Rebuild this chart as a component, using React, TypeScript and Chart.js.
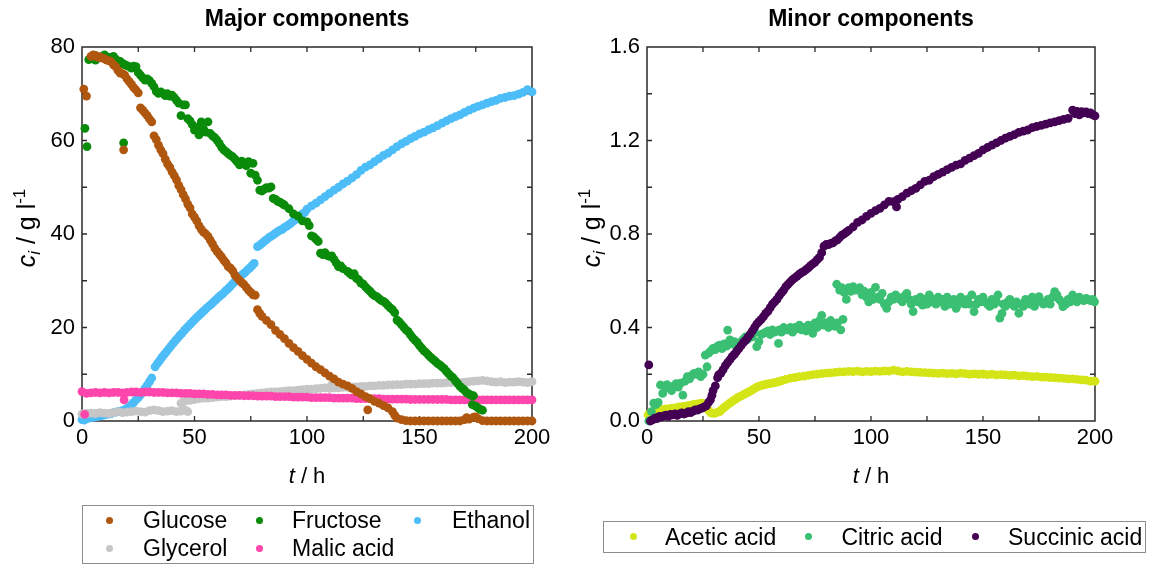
import React, { useEffect, useRef } from 'react';
import { Chart, registerables } from 'chart.js';

Chart.register(...registerables);

const FONT = '"Liberation Sans", Arial, Helvetica, sans-serif';

// Axis ticks
const timeTicks = [0, 50, 100, 150, 200];
const timeSubTicks = [25, 75, 125, 175];
const majorYTicks = [0, 20, 40, 60, 80];
const majorYSubTicks = [10, 30, 50, 70];
const minorYTicks = [0, 0.4, 0.8, 1.2, 1.6];
const minorYSubTicks = [0.2, 0.6, 1.0, 1.4];

// Major components: [t / h, c / g l-1]
const glucose = [
  [0.8, 71.0], [2, 69.5], [4, 78.0], [5, 78.3], [6, 78.2], [7, 77.8], [8, 77.9], [9, 77.6], [10, 77.5],
  [11, 77.2], [12, 77.1], [13, 76.8], [14, 76.2], [15, 75.8], [16, 75.0], [17, 74.4], [18, 74.3], [18.5, 58.0],
  [19, 74.0], [20, 73.2], [21, 72.6], [22, 72.0], [23, 71.3], [24, 70.8], [25, 70.2], [26, 67.0], [27, 66.5],
  [28, 65.9], [29, 65.3], [30, 64.6], [31, 64.0], [32, 61.0], [33, 60.2], [34, 59.0], [35, 58.0], [36, 57.2],
  [37, 56.0], [38, 55.0], [39, 54.3], [40, 53.3], [41, 52.5], [42, 51.6], [43, 50.4], [44, 49.5], [45, 48.4],
  [46, 47.5], [47, 46.4], [48, 45.6], [49, 44.3], [50, 43.6], [51, 42.8], [52, 41.8], [53, 41.0], [54, 40.4],
  [55, 40.0], [56, 39.5], [57, 38.7], [58, 37.9], [59, 37.0], [60, 36.3], [61, 35.7], [62, 35.1], [63, 34.4],
  [64, 33.8], [65, 33.0], [66, 32.7], [67, 32.1], [68, 31.2], [69, 30.6], [70, 30.1], [71, 29.6], [72, 29.2],
  [73, 28.6], [74, 28.0], [75, 27.5], [76, 27.0], [77, 26.9], [78, 23.8], [79, 23.0], [80, 22.4], [82, 21.5],
  [84, 20.6], [86, 19.4], [88, 18.5], [90, 17.6], [92, 16.6], [94, 15.7], [96, 14.9], [98, 14.0], [100, 13.2],
  [102, 12.4], [104, 11.6], [106, 11.0], [108, 10.3], [110, 9.6], [112, 9.0], [114, 8.3], [116, 7.9], [118, 7.5],
  [120, 7.0], [122, 6.3], [124, 5.8], [126, 5.2], [127, 2.4], [128, 4.8], [130, 4.2], [132, 3.8], [134, 3.3],
  [136, 2.8], [138, 2.0], [139, 1.2], [140, 0.6], [142, 0.3], [144, 0.1], [146, 0], [148, 0], [150, 0],
  [152, 0], [154, 0], [156, 0], [158, 0], [160, 0], [162, 0], [164, 0], [166, 0], [168, 0], [170, 0.3],
  [171, 0.7], [172, 0.4], [174, 0.8], [175, 0.9], [176, 0.5], [178, 0.1], [180, 0], [182, 0], [184, 0],
  [186, 0], [188, 0], [190, 0], [192, 0], [194, 0], [196, 0], [198, 0], [200, 0],
];

const fructose = [
  [1.3, 62.6], [2.2, 58.7], [3, 77.3], [4, 77.5], [5, 77.8], [6, 77.2], [7, 77.6], [8, 77.8], [9, 78.0],
  [10, 78.3], [11, 77.9], [12, 77.5], [13, 77.8], [14, 78.0], [15, 77.4], [16, 77.0], [17, 76.9], [18, 76.5],
  [18.5, 59.5], [19, 76.2], [20, 76.0], [21, 75.8], [22, 75.5], [23, 75.9], [24, 75.8], [25, 74.5], [26, 74.0],
  [27, 73.4], [28, 72.9], [29, 73.2], [30, 72.8], [31, 72.2], [32, 71.5], [33, 70.5], [34, 70.1], [35, 70.4],
  [36, 70.1], [37, 69.6], [38, 70.0], [39, 69.5], [40, 69.7], [41, 69.2], [42, 68.6], [43, 68.0], [44, 65.3],
  [45, 67.6], [46, 67.6], [47, 64.7], [48, 64.2], [49, 63.4], [50, 62.2], [51, 62.8], [52, 61.2], [53, 64.0],
  [54, 62.5], [55, 61.8], [56, 64.0], [57, 61.5], [58, 61.0], [59, 60.6], [60, 60.1], [61, 59.4], [62, 58.6],
  [63, 58.0], [64, 57.6], [65, 57.2], [66, 56.8], [67, 56.5], [68, 56.0], [69, 55.4], [70, 54.8], [71, 55.6],
  [72, 55.0], [73, 54.6], [74, 55.5], [75, 53.0], [76, 55.1], [77, 52.6], [78, 51.5], [79, 49.4], [80, 49.2],
  [81, 49.6], [82, 49.9], [83, 49.8], [84, 50.1], [85, 47.6], [86, 47.4], [87, 47.0], [88, 46.8], [89, 46.5],
  [90, 46.2], [92, 45.4], [94, 44.3], [96, 43.8], [98, 42.8], [100, 42.6], [101, 41.8], [102, 39.6], [103, 39.4],
  [104, 38.9], [105, 38.4], [106, 35.9], [107, 35.6], [108, 36.0], [109, 35.4], [110, 35.2], [111, 35.3],
  [112, 34.6], [113, 33.8], [114, 33.0], [115, 33.2], [116, 32.6], [118, 32.0], [119, 31.6], [120, 31.2],
  [121, 31.5], [122, 30.5], [123, 30.2], [124, 29.5], [125, 29.3], [126, 28.7], [127, 28.2], [128, 27.8],
  [129, 27.2], [130, 26.8], [131, 26.6], [132, 26.2], [133, 25.8], [134, 25.6], [135, 25.2], [136, 24.7],
  [137, 24.2], [138, 23.8], [139, 23.2], [140, 21.6], [141, 21.2], [142, 20.6], [143, 20.1], [144, 19.5],
  [145, 19.1], [146, 18.4], [147, 17.8], [148, 17.3], [149, 16.8], [150, 16.1], [151, 15.6], [152, 15.0],
  [153, 14.6], [154, 14.1], [155, 13.6], [156, 13.2], [157, 12.8], [158, 12.3], [159, 12.0], [160, 11.6],
  [161, 11.2], [162, 10.6], [163, 10.1], [164, 9.6], [165, 9.2], [166, 8.6], [167, 8.0], [168, 7.4], [169, 7.0],
  [170, 6.6], [171, 6.0], [172, 5.8], [173, 5.5], [173.5, 3.5], [174, 5.4], [175, 3.2], [176, 2.8], [177, 2.5],
  [178, 2.3],
];

const ethanol = [
  [0, 0.3], [1, 0.2], [2, 0.5], [3, 0.6], [4, 0.7], [5, 0.8], [6, 0.9], [7, 1.0], [8, 1.1], [9, 1.2], [10, 1.3],
  [11, 1.4], [12, 1.5], [13, 1.6], [14, 1.8], [15, 1.9], [16, 2.0], [17, 2.1], [18, 2.2], [19, 2.4], [20, 2.7],
  [21, 3.0], [22, 3.5], [23, 4.0], [24, 4.5], [25, 5.0], [26, 5.6], [27, 6.3], [28, 7.0], [29, 7.7], [30, 8.4],
  [31, 9.2], [32.5, 11.6], [33.5, 12.3], [34.5, 12.9], [35.5, 13.6], [36.5, 14.2], [37.5, 14.8], [38.5, 15.4],
  [39.5, 16.0], [40.5, 16.6], [41.5, 17.2], [42.5, 17.7], [43.5, 18.3], [44.5, 18.8], [45.5, 19.4], [46.5, 19.9],
  [47.5, 20.4], [48.5, 20.9], [49.5, 21.4], [50.5, 21.9], [51.5, 22.4], [52.5, 22.8], [53.5, 23.3], [54.5, 23.7],
  [55.5, 24.2], [56.5, 24.6], [57.5, 25.0], [58.5, 25.5], [59.5, 25.9], [60.5, 26.4], [61.5, 26.8], [62.5, 27.2],
  [63.5, 27.7], [64.5, 28.1], [65.5, 28.6], [66.5, 29.1], [67.5, 29.6], [68.5, 30.2], [69.5, 30.6], [70.5, 31.0],
  [71.5, 31.4], [72.5, 31.8], [73.5, 32.3], [74.5, 32.7], [75.5, 33.2], [76.5, 33.7], [78, 37.3], [79, 37.6],
  [80, 38.0], [81, 38.4], [82, 38.8], [83, 39.2], [84, 39.5], [85, 39.8], [86, 40.2], [87, 40.5], [88, 40.8],
  [89, 41.0], [90, 41.4], [91, 41.7], [92, 42.0], [93, 42.4], [94, 42.8], [95, 43.1], [96, 43.4], [97, 44.0],
  [98, 44.3], [99, 44.6], [100, 45.3], [102, 46.0], [104, 46.6], [106, 47.3], [108, 48.0], [110, 48.7],
  [112, 49.4], [114, 50.0], [116, 50.7], [118, 51.3], [120, 52.0], [122, 52.7], [124, 53.6], [126, 54.3],
  [128, 54.8], [130, 55.5], [132, 56.1], [134, 56.8], [136, 57.3], [138, 58.0], [140, 58.7], [142, 59.3],
  [144, 59.8], [146, 60.4], [148, 60.9], [150, 61.4], [152, 61.8], [154, 62.3], [156, 62.7], [158, 63.2],
  [160, 63.7], [162, 64.2], [164, 64.7], [166, 65.1], [168, 65.5], [170, 66.0], [172, 66.5], [174, 66.9],
  [176, 67.3], [178, 67.6], [180, 68.0], [182, 68.3], [184, 68.6], [186, 69.0], [188, 69.2], [190, 69.5],
  [192, 69.6], [194, 69.9], [196, 70.3], [198, 70.9], [200, 70.4],
];

const glycerol = [
  [0, 1.5], [2, 1.6], [4, 1.7], [6, 1.6], [8, 1.8], [10, 1.7], [12, 1.6], [14, 1.8], [16, 2.0], [18, 1.8],
  [20, 1.9], [22, 2.0], [24, 2.1], [26, 2.0], [28, 1.9], [30, 2.2], [32, 2.4], [34, 2.2], [36, 2.0], [38, 2.1],
  [40, 2.2], [42, 2.0], [44, 2.1], [46, 2.3], [47, 2.0], [44, 3.8], [45.5, 4.2], [48, 4.4], [50, 4.6], [52, 4.8],
  [54, 4.9], [56, 4.9], [58, 5.0], [60, 5.1], [62, 5.2], [64, 5.2], [66, 5.3], [68, 5.4], [70, 5.5], [72, 5.6],
  [74, 5.7], [76, 5.8], [78, 5.9], [80, 6.0], [82, 6.1], [84, 6.2], [86, 6.2], [88, 6.3], [90, 6.4], [92, 6.5],
  [94, 6.5], [96, 6.6], [98, 6.7], [100, 6.8], [102, 6.8], [104, 6.9], [106, 7.0], [108, 7.1], [110, 7.0],
  [111, 7.8], [112, 7.1], [114, 7.1], [116, 7.2], [118, 7.2], [120, 7.3], [122, 7.3], [124, 7.4], [126, 7.4],
  [128, 7.5], [130, 7.5], [132, 7.6], [134, 7.6], [136, 7.7], [138, 7.7], [140, 7.8], [142, 7.8], [144, 7.9],
  [146, 7.9], [148, 7.9], [150, 8.0], [152, 8.0], [154, 8.0], [156, 8.1], [158, 8.1], [160, 8.1], [162, 8.2],
  [164, 8.2], [166, 8.3], [168, 8.2], [170, 8.3], [172, 8.4], [174, 8.5], [176, 8.6], [178, 8.7], [180, 8.6],
  [182, 8.4], [184, 8.3], [186, 8.4], [188, 8.2], [190, 8.3], [192, 8.3], [194, 8.4], [196, 8.3], [198, 8.2],
  [200, 8.4],
];

const malicAcid = [
  [0, 6.3], [1.2, 1.4], [2, 5.9], [4, 6.0], [6, 6.1], [8, 6.0], [10, 6.1], [12, 6.0], [14, 6.1], [16, 6.1],
  [18, 6.0], [18.7, 4.5], [20, 6.1], [22, 6.2], [24, 6.2], [26, 6.1], [28, 6.2], [30, 6.2], [32, 6.1], [34, 6.1],
  [36, 6.1], [38, 6.0], [40, 6.0], [42, 6.0], [44, 5.9], [46, 5.9], [48, 5.9], [50, 5.8], [52, 5.8], [54, 5.8],
  [56, 5.7], [58, 5.7], [60, 5.6], [62, 5.6], [64, 5.6], [66, 5.5], [68, 5.5], [70, 5.5], [72, 5.4], [74, 5.4],
  [76, 5.4], [78, 5.3], [80, 5.3], [82, 5.3], [84, 5.3], [86, 5.2], [88, 5.2], [90, 5.2], [92, 5.2], [94, 5.1],
  [96, 5.1], [98, 5.1], [100, 5.1], [102, 5.0], [104, 5.0], [106, 5.0], [108, 5.0], [110, 5.0], [112, 4.9],
  [114, 4.9], [116, 4.9], [118, 4.9], [120, 4.9], [122, 4.8], [124, 4.8], [126, 4.8], [128, 4.8], [130, 4.8],
  [132, 4.8], [134, 4.7], [136, 4.7], [138, 4.7], [140, 4.7], [142, 4.7], [144, 4.7], [146, 4.6], [148, 4.6],
  [150, 4.6], [152, 4.6], [154, 4.6], [156, 4.6], [158, 4.6], [160, 4.6], [162, 4.6], [164, 4.5], [166, 4.5],
  [168, 4.5], [170, 4.5], [172, 4.5], [174, 4.5], [176, 4.5], [178, 4.5], [180, 4.5], [182, 4.5], [184, 4.5],
  [186, 4.5], [188, 4.5], [190, 4.5], [192, 4.5], [194, 4.5], [196, 4.5], [198, 4.5], [200, 4.5],
];

// Minor components: [t / h, c / g l-1]
const aceticAcid = [
  [0.5, 0.026], [1.5, 0.035], [2.5, 0.04], [3.5, 0.045], [4.5, 0.042], [5.5, 0.047], [6.5, 0.05], [7.5, 0.048],
  [8.5, 0.052], [9.5, 0.05], [10.5, 0.054], [11.5, 0.055], [12.5, 0.053], [13.5, 0.058], [14.5, 0.06],
  [15.5, 0.06], [16.5, 0.062], [17.5, 0.064], [18.5, 0.066], [19.5, 0.068], [20.5, 0.07], [21.5, 0.072],
  [22.5, 0.072], [23.5, 0.074], [24.5, 0.076], [25.5, 0.07], [26.5, 0.06], [27.5, 0.045], [28.5, 0.035],
  [29.5, 0.033], [30.5, 0.034], [31.5, 0.038], [32.5, 0.04], [33.5, 0.05], [34.5, 0.058], [35.5, 0.066],
  [36.5, 0.073], [37.5, 0.08], [38.5, 0.087], [39.5, 0.093], [40.5, 0.1], [41.5, 0.104], [42.5, 0.11],
  [43.5, 0.115], [44.5, 0.12], [45.5, 0.125], [46.5, 0.13], [47.5, 0.136], [48.5, 0.142], [49.5, 0.147],
  [50.5, 0.15], [51.5, 0.153], [52.5, 0.156], [53.5, 0.158], [54.5, 0.16], [55.5, 0.161], [56.5, 0.163],
  [57.5, 0.165], [58.5, 0.168], [59.5, 0.17], [60.5, 0.174], [62, 0.178], [64, 0.183], [66, 0.186], [68, 0.19],
  [70, 0.192], [72, 0.195], [74, 0.198], [76, 0.2], [78, 0.203], [80, 0.205], [82, 0.206], [84, 0.208],
  [86, 0.21], [88, 0.21], [90, 0.212], [92, 0.211], [94, 0.213], [96, 0.21], [98, 0.212], [100, 0.211],
  [102, 0.213], [104, 0.212], [106, 0.214], [108, 0.213], [110, 0.218], [112, 0.214], [114, 0.21], [116, 0.212],
  [118, 0.21], [120, 0.209], [122, 0.208], [124, 0.207], [126, 0.206], [128, 0.205], [130, 0.204], [132, 0.205],
  [134, 0.203], [136, 0.204], [138, 0.202], [140, 0.205], [142, 0.203], [144, 0.2], [146, 0.202], [148, 0.2],
  [150, 0.201], [152, 0.198], [154, 0.2], [156, 0.197], [158, 0.198], [160, 0.197], [162, 0.195], [164, 0.196],
  [166, 0.193], [168, 0.194], [170, 0.192], [172, 0.19], [174, 0.191], [176, 0.188], [178, 0.188], [180, 0.186],
  [182, 0.185], [184, 0.183], [186, 0.182], [188, 0.18], [190, 0.18], [192, 0.178], [194, 0.176], [196, 0.175],
  [198, 0.17], [200, 0.17],
];

const citricAcid = [
  [0.8, 0.0], [2, 0.04], [3, 0.076], [4, 0.07], [5, 0.08], [6, 0.154], [7, 0.118], [8, 0.15], [9, 0.155],
  [10, 0.14], [11, 0.13], [12, 0.15], [13, 0.16], [14, 0.145], [15, 0.162], [16, 0.111], [17, 0.17], [18, 0.19],
  [19, 0.18], [20, 0.195], [21, 0.204], [22, 0.2], [23, 0.21], [24, 0.19], [25, 0.2], [26, 0.282], [26.8, 0.232],
  [27.5, 0.29], [28.5, 0.3], [29.5, 0.311], [30.5, 0.305], [31.5, 0.32], [32.5, 0.325], [33.5, 0.31],
  [34.5, 0.33], [35.5, 0.32], [36, 0.389], [37, 0.347], [38, 0.33], [39, 0.34], [40, 0.32], [41, 0.33],
  [42, 0.34], [43, 0.35], [44, 0.36], [45, 0.35], [46, 0.37], [47, 0.36], [48, 0.38], [49, 0.318], [50, 0.34],
  [51, 0.37], [52, 0.375], [53, 0.38], [54, 0.385], [55, 0.37], [56, 0.39], [57, 0.38], [58.7, 0.332],
  [59, 0.39], [60, 0.38], [61, 0.4], [62, 0.39], [63, 0.39], [64, 0.4], [65, 0.38], [66, 0.4], [67, 0.395],
  [68, 0.41], [69, 0.39], [70, 0.4], [71, 0.385], [72, 0.41], [73, 0.395], [74, 0.375], [75, 0.42], [76, 0.4],
  [77, 0.43], [78, 0.452], [79, 0.41], [80, 0.42], [81, 0.4], [82, 0.43], [83, 0.41], [84, 0.405], [85, 0.42],
  [86.5, 0.39], [87.5, 0.435], [84.7, 0.585], [86, 0.56], [87, 0.57], [88, 0.55], [89, 0.52], [90, 0.57],
  [91, 0.555], [92, 0.575], [93, 0.56], [94, 0.565], [95, 0.57], [96, 0.54], [97, 0.555], [98, 0.53],
  [99, 0.51], [100, 0.55], [101, 0.52], [102, 0.572], [103, 0.53], [104, 0.52], [105, 0.546], [106, 0.5],
  [107, 0.482], [108, 0.51], [109, 0.53], [110, 0.52], [111, 0.54], [112, 0.53], [113, 0.52], [114, 0.51],
  [115, 0.535], [116, 0.546], [117, 0.52], [118, 0.5], [118.8, 0.468], [120, 0.52], [121, 0.51], [122, 0.53],
  [123, 0.496], [124, 0.52], [125, 0.5], [126, 0.54], [127, 0.51], [128, 0.52], [129, 0.5], [130, 0.53],
  [131, 0.51], [132, 0.52], [133, 0.49], [134, 0.53], [135, 0.5], [136, 0.51], [137, 0.52], [138, 0.482],
  [139, 0.5], [140, 0.53], [141, 0.51], [142, 0.5], [143, 0.52], [144, 0.5], [145, 0.54], [146, 0.468],
  [147, 0.5], [148, 0.52], [149, 0.51], [150, 0.53], [151, 0.51], [152, 0.5], [153, 0.49], [154, 0.52],
  [155, 0.5], [156, 0.51], [156.7, 0.539], [157.5, 0.44], [158.5, 0.46], [159, 0.5], [160, 0.49], [161, 0.51],
  [162, 0.52], [163, 0.5], [164, 0.49], [165, 0.51], [166, 0.461], [167, 0.5], [168, 0.49], [169, 0.52],
  [170, 0.51], [171, 0.5], [172, 0.53], [173, 0.49], [174, 0.52], [175, 0.532], [176, 0.51], [177, 0.5],
  [178, 0.51], [179, 0.52], [180, 0.5], [181, 0.53], [182, 0.553], [183, 0.54], [184, 0.52], [185, 0.51],
  [185.7, 0.489], [187, 0.5], [188, 0.52], [189, 0.51], [190, 0.539], [191, 0.52], [192, 0.51], [193, 0.53],
  [194, 0.52], [195, 0.515], [196, 0.525], [197, 0.52], [198, 0.515], [199, 0.52], [199.8, 0.51],
];

const succinicAcid = [
  [0.8, 0.24], [1.5, 0.0], [2.5, 0.005], [3.5, 0.012], [4.5, 0.01], [5.5, 0.02], [6.5, 0.018], [7.5, 0.022],
  [8.5, 0.025], [9.5, 0.02], [10.5, 0.028], [11.5, 0.026], [12.5, 0.03], [13.5, 0.024], [14.5, 0.03],
  [15.5, 0.035], [16.5, 0.03], [17.5, 0.034], [18.5, 0.04], [19.5, 0.036], [20.5, 0.042], [21.5, 0.048],
  [22.5, 0.047], [23.5, 0.052], [24.5, 0.055], [25.5, 0.06], [26.5, 0.065], [27.5, 0.08], [28.3, 0.09],
  [29, 0.11], [29.5, 0.13], [30.5, 0.15], [31.5, 0.185], [32, 0.197], [33, 0.205], [34, 0.22], [35, 0.237],
  [36, 0.25], [37, 0.262], [38, 0.275], [39, 0.285], [40, 0.298], [41, 0.31], [42, 0.322], [43, 0.335],
  [44, 0.345], [45, 0.358], [46, 0.37], [47, 0.385], [48, 0.4], [49, 0.415], [50, 0.425], [51, 0.435],
  [52, 0.447], [53, 0.46], [54, 0.47], [55, 0.485], [56, 0.5], [57, 0.51], [58, 0.52], [59, 0.535], [60, 0.548],
  [61, 0.56], [62, 0.575], [63, 0.585], [64, 0.595], [65, 0.605], [66, 0.612], [67, 0.62], [68, 0.628],
  [69, 0.635], [70, 0.64], [71, 0.648], [72, 0.655], [73, 0.665], [74, 0.672], [75, 0.68], [76, 0.69], [77, 0.7],
  [78, 0.72], [79, 0.748], [80, 0.755], [81, 0.755], [82, 0.76], [83, 0.762], [84, 0.77], [85, 0.775],
  [86, 0.785], [87, 0.795], [88, 0.8], [89, 0.808], [90, 0.815], [92, 0.83], [94, 0.85], [96, 0.86], [98, 0.875],
  [100, 0.888], [102, 0.9], [104, 0.91], [106, 0.925], [108, 0.94], [110, 0.938], [111.4, 0.916], [112, 0.948],
  [114, 0.96], [116, 0.975], [118, 0.985], [120, 0.995], [122, 1.01], [124, 1.025], [126, 1.03], [128, 1.045],
  [130, 1.055], [132, 1.065], [134, 1.075], [136, 1.085], [138, 1.095], [140, 1.1], [142, 1.115], [144, 1.125],
  [146, 1.135], [148, 1.145], [150, 1.16], [152, 1.17], [154, 1.18], [156, 1.19], [158, 1.2], [160, 1.21],
  [162, 1.218], [164, 1.225], [166, 1.235], [168, 1.24], [170, 1.245], [172, 1.255], [174, 1.26], [176, 1.265],
  [178, 1.27], [180, 1.275], [182, 1.28], [184, 1.285], [186, 1.29], [188, 1.295], [190, 1.33], [191, 1.315],
  [192, 1.325], [193, 1.31], [194, 1.323], [195, 1.318], [196, 1.322], [197, 1.315], [198, 1.318], [199, 1.31],
  [200, 1.305],
];

const COLORS = {
  glucose: '#B0570F',
  fructose: '#0A8C0A',
  ethanol: '#4DBDF8',
  glycerol: '#C6C6C6',
  malic: '#FF46AC',
  acetic: '#D4E517',
  citric: '#3ABF73',
  succinic: '#440154',
};

// Datasets listed first are painted on top.
const majorSeries = [
  { label: 'Glucose', color: COLORS.glucose, data: glucose },
  { label: 'Fructose', color: COLORS.fructose, data: fructose },
  { label: 'Malic acid', color: COLORS.malic, data: malicAcid },
  { label: 'Glycerol', color: COLORS.glycerol, data: glycerol },
  { label: 'Ethanol', color: COLORS.ethanol, data: ethanol },
];

const minorSeries = [
  { label: 'Succinic acid', color: COLORS.succinic, data: succinicAcid },
  { label: 'Citric acid', color: COLORS.citric, data: citricAcid },
  { label: 'Acetic acid', color: COLORS.acetic, data: aceticAcid },
];

type Seg = { text: string; italic?: boolean; size: number; shift?: number };

function drawRich(ctx: CanvasRenderingContext2D, segs: Seg[], cx: number, cy: number, vertical: boolean) {
  ctx.save();
  ctx.translate(cx, cy);
  if (vertical) ctx.rotate(-Math.PI / 2);
  ctx.fillStyle = '#000';
  ctx.textBaseline = 'alphabetic';
  ctx.textAlign = 'left';
  const widths = segs.map((s) => {
    ctx.font = `${s.italic ? 'italic ' : ''}${s.size}px ${FONT}`;
    return ctx.measureText(s.text).width;
  });
  let x = -widths.reduce((a, b) => a + b, 0) / 2;
  segs.forEach((s, i) => {
    ctx.font = `${s.italic ? 'italic ' : ''}${s.size}px ${FONT}`;
    ctx.fillText(s.text, x, 8 + (s.shift || 0));
    x += widths[i];
  });
  ctx.restore();
}

const framePlugin = {
  id: 'frame',
  beforeDatasetsDraw(chart: any, _args: any, opts: any) {
    const { ctx, chartArea: a } = chart;
    const xs = chart.scales.x;
    const ys = chart.scales.y;
    ctx.save();
    ctx.strokeStyle = '#2a2a2a';
    ctx.lineWidth = 1.3;
    ctx.beginPath();
    const inner = (v: number, lo: number, hi: number) => v > lo && v < hi;
    for (const v of [...opts.xTicks, ...opts.xSubTicks]) {
      if (!inner(v, xs.min, xs.max)) continue;
      const p = xs.getPixelForValue(v);
      ctx.moveTo(p, a.bottom);
      ctx.lineTo(p, a.bottom - 5);
      ctx.moveTo(p, a.top);
      ctx.lineTo(p, a.top + 5);
    }
    for (const v of [...opts.yTicks, ...opts.ySubTicks]) {
      if (!inner(v, ys.min, ys.max)) continue;
      const p = ys.getPixelForValue(v);
      ctx.moveTo(a.left, p);
      ctx.lineTo(a.left + 5, p);
      ctx.moveTo(a.right, p);
      ctx.lineTo(a.right - 5, p);
    }
    ctx.stroke();
    ctx.lineWidth = 1.5;
    ctx.strokeRect(a.left, a.top, a.right - a.left, a.bottom - a.top);
    ctx.restore();
  },
  afterDraw(chart: any, _args: any, opts: any) {
    const { ctx, chartArea: a } = chart;
    const cx = (a.left + a.right) / 2;
    ctx.save();
    ctx.fillStyle = '#000';
    ctx.font = `bold 23px ${FONT}`;
    ctx.textAlign = 'center';
    ctx.textBaseline = 'middle';
    ctx.fillText(opts.title, cx, 20);
    ctx.restore();
    drawRich(ctx, [
      { text: 't', italic: true, size: 22 },
      { text: ' / h', size: 22 },
    ], cx, 475, false);
    drawRich(ctx, [
      { text: 'c', italic: true, size: 25 },
      { text: 'i', italic: true, size: 17, shift: 5 },
      { text: ' / g l', size: 25 },
      { text: '-1', size: 17, shift: -10 },
    ], a.left - 55, 228, true);
  },
};

type PanelProps = {
  left: number;
  width: number;
  padRight: number;
  yAxisWidth: number;
  title: string;
  series: { label: string; color: string; data: number[][] }[];
  yMax: number;
  yTicks: number[];
  ySubTicks: number[];
  decimals: number;
};

function Panel(p: PanelProps) {
  const ref = useRef<HTMLCanvasElement>(null);
  useEffect(() => {
    const tickFont = { family: FONT, size: 22 };
    const chart = new Chart(ref.current as HTMLCanvasElement, {
      type: 'scatter',
      data: {
        datasets: p.series.map((s) => ({
          label: s.label,
          data: s.data.map(([x, y]) => ({ x, y })),
          backgroundColor: s.color,
          borderColor: s.color,
          pointRadius: 4.4,
          pointHoverRadius: 4.4,
          pointBorderWidth: 0,
          clip: false,
        })),
      },
      options: {
        animation: false,
        responsive: false,
        maintainAspectRatio: false,
        events: [],
        layout: { padding: { left: 0, right: p.padRight, top: 47, bottom: 0 } },
        plugins: {
          legend: { display: false },
          tooltip: { enabled: false },
          frame: {
            title: p.title,
            xTicks: timeTicks,
            xSubTicks: timeSubTicks,
            yTicks: p.yTicks,
            ySubTicks: p.ySubTicks,
          },
        } as any,
        scales: {
          x: {
            type: 'linear',
            min: 0,
            max: 200,
            grid: { display: false, drawTicks: false },
            border: { display: false },
            ticks: { font: tickFont, color: '#000', padding: 4, maxRotation: 0 },
            afterBuildTicks: (s: any) => {
              s.ticks = timeTicks.map((value) => ({ value }));
            },
            afterFit: (s: any) => {
              s.height = 145;
            },
          },
          y: {
            type: 'linear',
            min: 0,
            max: p.yMax,
            grid: { display: false, drawTicks: false },
            border: { display: false },
            ticks: {
              font: tickFont,
              color: '#000',
              padding: 7,
              callback: (v: any) => Number(v).toFixed(p.decimals),
            },
            afterBuildTicks: (s: any) => {
              s.ticks = p.yTicks.map((value) => ({ value }));
            },
            afterFit: (s: any) => {
              s.width = p.yAxisWidth;
            },
          },
        },
      },
      plugins: [framePlugin],
    });
    return () => chart.destroy();
  }, []);
  return (
    <canvas
      ref={ref}
      width={p.width}
      height={566}
      style={{ position: 'absolute', left: p.left, top: 0, width: p.width, height: 566, display: 'block' }}
    />
  );
}

type LegendItem = { label: string; color: string; dot: number; text: number; row: number };

const majorLegend: LegendItem[] = [
  { label: 'Glucose', color: COLORS.glucose, dot: 109, text: 143, row: 520.5 },
  { label: 'Fructose', color: COLORS.fructose, dot: 259, text: 292, row: 520.5 },
  { label: 'Ethanol', color: COLORS.ethanol, dot: 417.5, text: 452, row: 520.5 },
  { label: 'Glycerol', color: COLORS.glycerol, dot: 109, text: 143, row: 548.5 },
  { label: 'Malic acid', color: COLORS.malic, dot: 259, text: 292, row: 548.5 },
];

const minorLegend: LegendItem[] = [
  { label: 'Acetic acid', color: COLORS.acetic, dot: 633, text: 665, row: 536.7 },
  { label: 'Citric acid', color: COLORS.citric, dot: 808.5, text: 841.5, row: 536.7 },
  { label: 'Succinic acid', color: COLORS.succinic, dot: 975.7, text: 1008, row: 536.7 },
];

function LegendBox({ box, items }: { box: { left: number; top: number; width: number; height: number }; items: LegendItem[] }) {
  return (
    <>
      <div
        style={{
          position: 'absolute',
          left: box.left,
          top: box.top,
          width: box.width,
          height: box.height,
          border: '1px solid #8c8c8c',
          boxSizing: 'border-box',
        }}
      />
      {items.map((it) => (
        <React.Fragment key={it.label}>
          <div
            style={{
              position: 'absolute',
              left: it.dot - 3.5,
              top: it.row - 3.5,
              width: 7,
              height: 7,
              borderRadius: '50%',
              background: it.color,
            }}
          />
          <div
            style={{
              position: 'absolute',
              left: it.text,
              top: it.row - 13.2,
              fontSize: 23,
              lineHeight: '27px',
              whiteSpace: 'nowrap',
              color: '#000',
            }}
          >
            {it.label}
          </div>
        </React.Fragment>
      ))}
    </>
  );
}

export default function App() {
  return (
    <div
      style={{
        position: 'absolute',
        left: 0,
        top: 0,
        width: 1149,
        height: 566,
        background: '#fff',
        fontFamily: FONT,
        overflow: 'hidden',
      }}
    >
      <Panel
        left={0}
        width={560}
        padRight={28}
        yAxisWidth={82}
        title="Major components"
        series={majorSeries}
        yMax={80}
        yTicks={majorYTicks}
        ySubTicks={majorYSubTicks}
        decimals={0}
      />
      <Panel
        left={560}
        width={589}
        padRight={54}
        yAxisWidth={87}
        title="Minor components"
        series={minorSeries}
        yMax={1.6}
        yTicks={minorYTicks}
        ySubTicks={minorYSubTicks}
        decimals={1}
      />
      <LegendBox box={{ left: 82, top: 505, width: 452, height: 59 }} items={majorLegend} />
      <LegendBox box={{ left: 603, top: 521, width: 543, height: 32 }} items={minorLegend} />
    </div>
  );
}
